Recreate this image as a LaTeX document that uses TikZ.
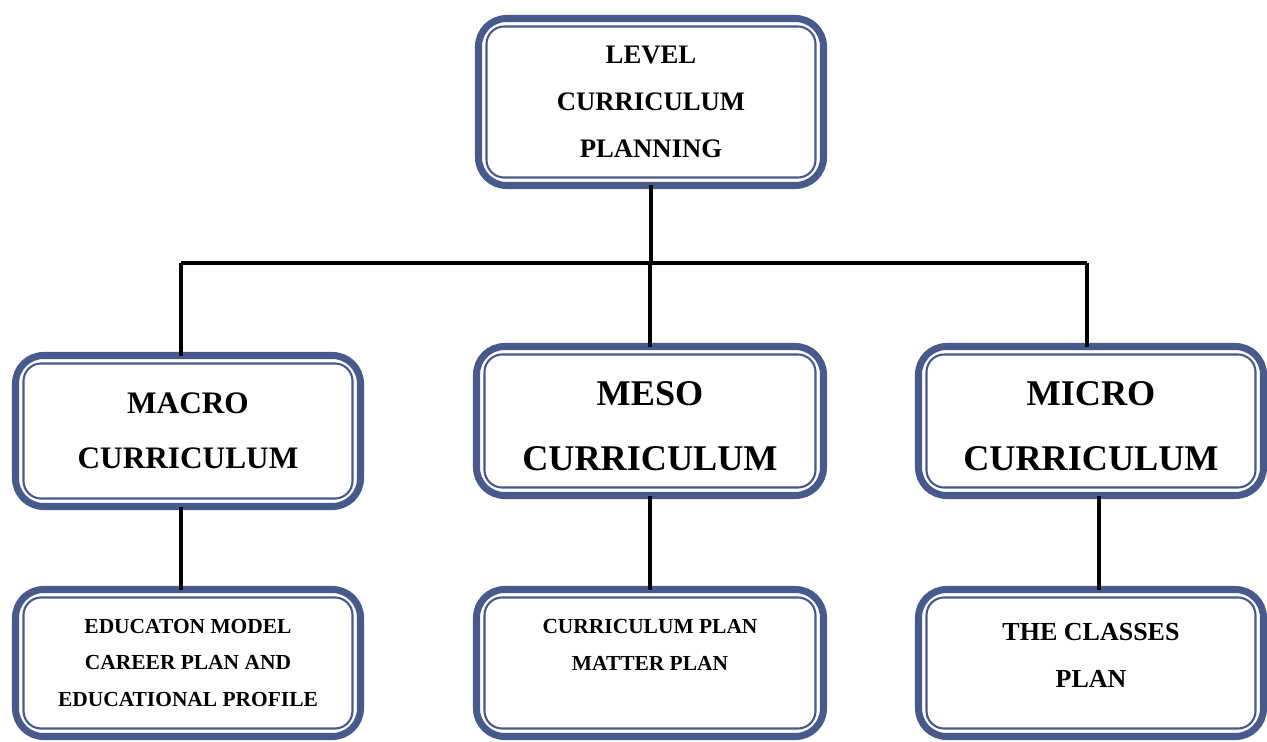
\documentclass[tikz,border=0pt]{standalone}
\usepackage{fontspec}
\setmainfont{Liberation Serif}
\definecolor{frameblue}{RGB}{72,89,140}
\tikzset{
  box/.style={draw=frameblue, line width=2pt, rounded corners=8pt, fill=white,
    align=center, inner sep=0pt, outer sep=0pt, font=\bfseries},
  inner frame/.style={draw=frameblue, line width=0.6pt, rounded corners=5pt},
  link/.style={line width=0.9pt}
}
\begin{document}
\begin{tikzpicture}
  \useasboundingbox (0,0) rectangle (12.67,-7.42);

  % top level
  \node[box, minimum width=3.45cm, minimum height=1.67cm,
    font=\bfseries\fontsize{7.6}{13.3}\selectfont] (top) at (6.51,-1.02)
    {LEVEL\\CURRICULUM\\PLANNING};

  % the three curricula
  \node[box, minimum width=3.45cm, minimum height=1.51cm,
    font=\bfseries\fontsize{8.9}{15.6}\selectfont] (macro) at (1.88,-4.31)
    {MACRO\\CURRICULUM};
  \node[box, minimum width=3.47cm, minimum height=1.49cm,
    font=\bfseries\fontsize{10.3}{18.4}\selectfont] (meso) at (6.50,-4.21)
    {\mbox{}\\[-8.6pt]MESO\\CURRICULUM};
  \node[box, minimum width=3.45cm, minimum height=1.49cm,
    font=\bfseries\fontsize{10.3}{18.4}\selectfont] (micro) at (10.91,-4.21)
    {\mbox{}\\[-8.6pt]MICRO\\CURRICULUM};

  % plans
  \node[box, minimum width=3.45cm, minimum height=1.47cm,
    font=\bfseries\fontsize{6.1}{10.5}\selectfont] (macroplan) at (1.88,-6.63)
    {EDUCATON MODEL\\CAREER PLAN AND\\EDUCATIONAL PROFILE};
  \node[box, minimum width=3.47cm, minimum height=1.47cm,
    font=\bfseries\fontsize{6.1}{10.5}\selectfont] (mesoplan) at (6.50,-6.63)
    {CURRICULUM PLAN\\MATTER PLAN\\\mbox{}};
  \node[box, minimum width=3.45cm, minimum height=1.47cm,
    font=\bfseries\fontsize{7.4}{13.3}\selectfont] (microplan) at (10.91,-6.63)
    {THE CLASSES\\PLAN\\[-9pt]\mbox{}};

  % thin inner line of each frame
  \foreach \n in {top,macro,meso,micro,macroplan,mesoplan,microplan}
    \draw[inner frame] ([shift={(0.08,-0.08)}]\n.north west)
      rectangle ([shift={(-0.08,0.08)}]\n.south east);

  % connectors
  \coordinate (bus) at (0,-2.63);
  \draw[link] (top) -- (top |- bus);
  \draw[link] ([xshift=-0.07cm]macro.north |- bus) -- ([xshift=-0.04cm]micro.north |- bus);
  \draw[link] ([xshift=-0.07cm]macro.north |- bus) -- ([xshift=-0.07cm]macro.north);
  \draw[link] (meso.north |- bus) -- (meso.north);
  \draw[link] ([xshift=-0.04cm]micro.north |- bus) -- ([xshift=-0.04cm]micro.north);
  \draw[link] ([xshift=-0.07cm]macro.south) -- ([xshift=-0.07cm]macroplan.north);
  \draw[link] (meso) -- (mesoplan);
  \draw[link] ([xshift=0.08cm]micro.south) -- ([xshift=0.08cm]microplan.north);
\end{tikzpicture}
\end{document}
